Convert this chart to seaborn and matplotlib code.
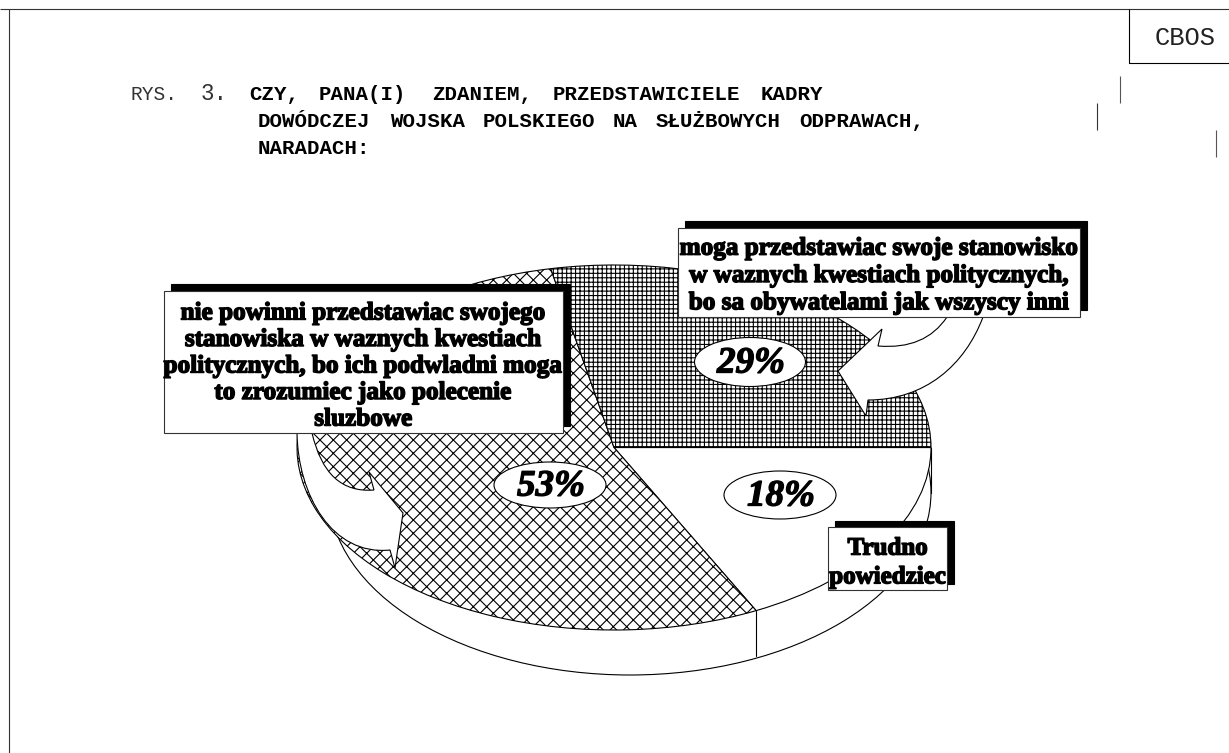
import matplotlib
matplotlib.use("Agg")
import matplotlib.pyplot as plt
import matplotlib.patheffects as pe
from matplotlib.patches import Ellipse, PathPatch, Rectangle
from matplotlib.path import Path
import numpy as np
import seaborn as sns

# slice sizes as measured on the drawn pie; printed labels kept separately
shares = [17.6, 54.2, 28.2]
share_labels = ["18%", "53%", "29%"]
share_hatches = ["", "xx", "+++"]
callouts = [
    "moga przedstawiac swoje stanowisko\nw waznych kwestiach politycznych,\nbo sa obywatelami jak wszyscy inni",
    "nie powinni przedstawiac swojego\nstanowiska w waznych kwestiach\npolitycznych, bo ich podwladni moga\nto zrozumiec jako polecenie\nsluzbowe",
    "Trudno\npowiedziec",
]
title_line1 = ["CZY,", "PANA(I)", "ZDANIEM,", "PRZEDSTAWICIELE", "KADRY"]
title_line2 = ["DOWÓDCZEJ", "WOJSKA", "POLSKIEGO", "NA", "SŁUŻBOWYCH", "ODPRAWACH,"]
title_line3 = ["NARADACH:"]

sns.set_theme(style="white")
DPI = 80
W, H = 1229, 753
plt.rcParams["hatch.linewidth"] = 1.0
fig = plt.figure(figsize=(W / DPI, H / DPI), dpi=DPI, facecolor="white")


def px(size):
    return size * 72 / DPI


# pie axes: the top face maps to an ellipse
L, R, T, B = 297, 931, 265, 630
ax = fig.add_axes([L / W, 1 - B / H, (R - L) / W, (B - T) / H])
depth = 45 / ((B - T) / 2)
ax.add_patch(Ellipse((16 / 317, -depth), 2 * 301 / 317, 2, fc="white", ec="black", lw=1,
                     zorder=1, clip_on=False))
ax.plot([1, 1], [-depth, 0], color="black", lw=1, zorder=1.6, clip_on=False)
wedges, _ = ax.pie(shares, startangle=0, counterclock=False, radius=1,
                   colors=["white"] * 3, frame=False,
                   wedgeprops=dict(edgecolor="black", linewidth=1, zorder=2))
for w, h in zip(wedges, share_hatches):
    w.set_hatch(h)
    w.set_zorder(2)
ax.set_aspect("auto")
ax.set_xlim(-1, 1)
ax.set_ylim(-1, 1)
ax.set_axis_off()
a = np.deg2rad(-shares[0] * 3.6)
ax.plot([np.cos(a)] * 2, [np.sin(a), np.sin(a) - depth], color="black", lw=1, zorder=1.7, clip_on=False)

# overlay in pixel space for page furniture and callouts
ov = fig.add_axes([0, 0, 1, 1], facecolor="none")
ov.set_xlim(0, W)
ov.set_ylim(H, 0)
ov.set_axis_off()


def line(xs, ys, lw=1.0, c="black"):
    ov.plot(xs, ys, color=c, lw=lw, solid_capstyle="butt", zorder=1)


line([0, W], [9, 9], 1.0, "#333333")
line([9, 9], [9, H], 1.0, "#333333")
line([1129, 1129, W], [9, 63, 63], 1.0)
line([1120, 1120], [76, 103], 1.0, "#555555")
line([1097, 1097], [103, 130], 1.0, "#333333")
line([1216, 1216], [130, 157], 1.0, "#555555")
ov.text(1185.5, 38, "CBOS", family="Liberation Mono", fontsize=px(25.5), ha="center", va="center", color="#222222")

ov.text(131, 94, "RYS.", family="Liberation Mono", fontsize=px(19.5), va="center", color="#333333")
ov.text(201, 93, "3.", family="Liberation Mono", fontsize=px(22.5), va="center", color="#333333")
title_rows = [(title_line1, [249, 319, 432, 553, 761], 94),
              (title_line2, [258, 390, 483, 613, 656, 799], 121),
              (title_line3, [258], 148)]
for words, xs, y in title_rows:
    for t, x in zip(words, xs):
        ov.text(x, y, t, family="Liberation Mono", weight="bold", fontsize=px(20.8), va="center", color="black")

# curved callout arrows
M, LN, C3, C4 = Path.MOVETO, Path.LINETO, Path.CURVE3, Path.CURVE4
r_verts = [(947, 317), (925, 350), (878, 346), (882, 329), (838, 371), (866, 416), (868, 400),
           (925, 400), (965, 365), (983, 317), (947, 317)]
r_codes = [M, C3, C3, LN, LN, LN, LN, C4, C4, C4, Path.CLOSEPOLY]
l_verts = [(312, 433), (326, 494), (374, 490), (369, 472), (403, 513), (395, 568), (390, 550),
           (332, 556), (298, 495), (297, 433), (312, 433)]
l_codes = [M, C3, C3, LN, LN, LN, LN, C4, C4, C4, Path.CLOSEPOLY]
for v, c in ((r_verts, r_codes), (l_verts, l_codes)):
    ov.add_patch(PathPatch(Path(v, c), fc="white", ec="black", lw=1, zorder=3))


def callout(x0, y0, x1, y1, sx, sy, text, size, spacing, dx, dy):
    ov.add_patch(Rectangle((x0 + sx, y0 + sy), x1 - x0, y1 - y0, fc="black", ec="black", zorder=4))
    ov.add_patch(Rectangle((x0, y0), x1 - x0, y1 - y0, fc="white", ec="#333333", lw=1, zorder=5))
    t = ov.text((x0 + x1) / 2 + dx, (y0 + y1) / 2 + dy, text, family="Liberation Serif", weight="bold",
                fontsize=px(size), ha="center", va="center", linespacing=spacing, color="black", zorder=6)
    t.set_path_effects([pe.withStroke(linewidth=1.3, foreground="black")])


callout(678, 228, 1080, 317, 7, -7, callouts[0], 25.2, 1.24, 0.5, 3)
callout(164, 291, 563, 433, 7, -7, callouts[1], 25.2, 1.195, 0, 4)
callout(828, 527, 947, 590, 7, -6, callouts[2], 25, 1.32, 0, 4)

for (cx, cy, ww, hh), lab in zip([(780, 495, 112, 48), (550, 485, 112, 46), (750, 362, 111, 49)], share_labels):
    ov.add_patch(Ellipse((cx, cy), ww, hh, fc="white", ec="black", lw=1, zorder=3))
    t = ov.text(cx + 1, cy + 1, lab, family="Liberation Serif", weight="bold", style="italic",
                fontsize=px(37), ha="center", va="center", color="black", zorder=4)
    t.set_path_effects([pe.withStroke(linewidth=1.2, foreground="black")])

fig.savefig("out.png", dpi=DPI, facecolor="white")
